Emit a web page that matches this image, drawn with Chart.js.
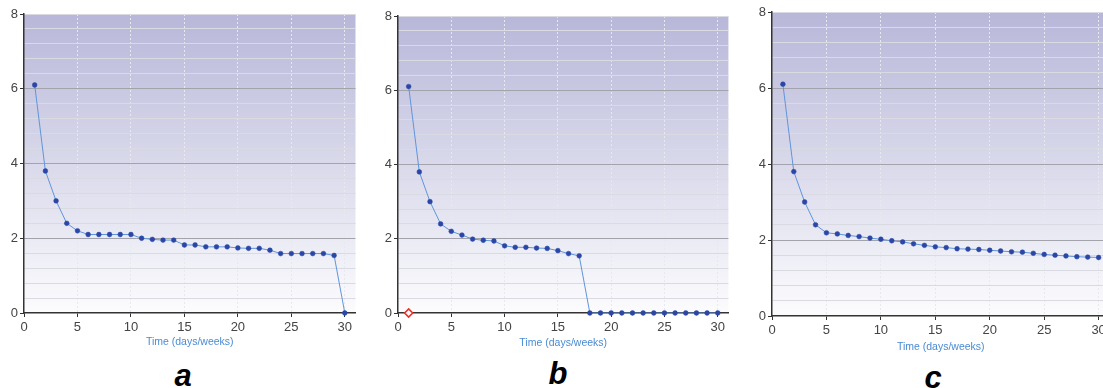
<!DOCTYPE html>
<html>
<head>
<meta charset="utf-8">
<script src="https://cdn.jsdelivr.net/npm/chart.js@4"></script>
<style>
  html, body { margin: 0; padding: 0; background: #fff; width: 1103px; height: 388px; overflow: hidden; }
  .panel { position: absolute; top: 0; }
  .letter { position: absolute; font: italic bold 31px "Liberation Sans", Arial, sans-serif; color: #000; transform: translate(-50%, -50%); }
</style>
</head>
<body>
<canvas id="chartA" class="panel" style="left:0px"></canvas>
<canvas id="chartB" class="panel" style="left:374px"></canvas>
<canvas id="chartC" class="panel" style="left:748px"></canvas>
<div class="letter" style="left:183px; top:376px">a</div>
<div class="letter" style="left:558px; top:374px">b</div>
<div class="letter" style="left:933px; top:378px">c</div>
<script>
// x positions (days/weeks)
const timeSteps = [1, 2, 3, 4, 5, 6, 7, 8, 9, 10, 11, 12, 13, 14, 15,
  16, 17, 18, 19, 20, 21, 22, 23, 24, 25, 26, 27, 28, 29, 30];

const seriesA = [6.1, 3.8, 3.0, 2.4, 2.2, 2.1, 2.1, 2.1, 2.1, 2.1, 2.0, 1.97, 1.95, 1.95, 1.82,
  1.82, 1.77, 1.77, 1.77, 1.74, 1.73, 1.73, 1.68, 1.59, 1.59, 1.59, 1.59, 1.59, 1.54, 0];
const seriesB = [6.1, 3.8, 3.0, 2.4, 2.2, 2.1, 1.99, 1.96, 1.94, 1.81, 1.77, 1.77, 1.75, 1.74, 1.68,
  1.6, 1.54, 0, 0, 0, 0, 0, 0, 0, 0, 0, 0, 0, 0, 0];
const seriesC = [6.1, 3.8, 3.0, 2.4, 2.19, 2.16, 2.12, 2.09, 2.05, 2.02, 1.98, 1.95, 1.9, 1.86, 1.82,
  1.8, 1.77, 1.76, 1.75, 1.73, 1.71, 1.69, 1.68, 1.65, 1.62, 1.6, 1.58, 1.56, 1.55, 1.54];
// the red hollow marker in panel b
const markerB = [{ x: 1, y: 0 }];

const xTicks = [0, 5, 10, 15, 20, 25, 30];
const yTicks = [0, 2, 4, 6, 8];
const yMinorStep = 0.4;

const pts = (ys) => ys.map((y, i) => ({ x: timeSteps[i], y }));

// gradient background behind the plot
const bgPlugin = {
  id: 'plotBg',
  beforeDraw(chart) {
    const { ctx, chartArea: a } = chart;
    const g = ctx.createLinearGradient(0, a.top, 0, a.bottom);
    g.addColorStop(0, '#b8b7d9');
    g.addColorStop(0.5, '#d9d9eb');
    g.addColorStop(1, '#fcfcfe');
    ctx.save();
    ctx.fillStyle = g;
    ctx.fillRect(a.left, a.top, a.right - a.left, a.bottom - a.top);
    ctx.restore();
  }
};

const isMajorY = v => yTicks.some(t => Math.abs(t - v) < 1e-6);

function makeChart(id, cfg) {
  const el = document.getElementById(id);
  el.width = cfg.w;
  el.height = cfg.h;
  const datasets = [{
    data: pts(cfg.series),
    borderColor: '#5f95dc',
    borderWidth: 1,
    backgroundColor: '#2b47a6',
    pointBackgroundColor: '#2b47a6',
    pointBorderColor: '#2b47a6',
    pointRadius: 2.4,
    pointBorderWidth: 0.5,
    showLine: true,
    tension: 0,
    clip: 8
  }];
  if (cfg.marker) {
    datasets.push({
      data: cfg.marker,
      showLine: false,
      pointStyle: 'rectRot',
      pointRadius: 4,
      pointBorderWidth: 1.6,
      pointBorderColor: '#e8322a',
      pointBackgroundColor: '#ffffff',
      clip: 8
    });
  }
  return new Chart(el, {
    type: 'scatter',
    data: { datasets },
    plugins: [bgPlugin],
    options: {
      responsive: false,
      animation: false,
      events: [],
      layout: { padding: { left: 0, top: cfg.top, right: cfg.right, bottom: 0 } },
      plugins: { legend: { display: false }, tooltip: { enabled: false } },
      scales: {
        x: {
          type: 'linear',
          min: 0,
          max: 31,
          afterBuildTicks: s => { s.ticks = xTicks.map(v => ({ value: v })); },
          afterFit: s => { s.height = cfg.h - cfg.bottom; },
          ticks: {
            color: '#444',
            font: { family: 'Liberation Sans', size: 13 },
            padding: 3,
            maxRotation: 0,
            autoSkip: false
          },
          grid: {
            color: c => c.tick && c.tick.value === 0 ? 'rgba(0,0,0,0)' : '#e8e8ef',
            tickColor: '#333',
            tickLength: 4,
            lineWidth: 1
          },
          border: { color: '#333', width: 1.5, dash: [2, 2] },
          title: {
            display: true,
            text: 'Time (days/weeks)',
            color: '#4a8bd3',
            font: { family: 'Liberation Sans', size: 10.5 },
            padding: { top: 0, bottom: 0 }
          }
        },
        y: {
          min: 0,
          max: 8,
          afterBuildTicks: s => {
            const t = [];
            for (let k = 0; k <= 20; k++) t.push({ value: +(k * yMinorStep).toFixed(1) });
            s.ticks = t;
          },
          afterFit: s => { s.width = 24; },
          ticks: {
            color: '#444',
            font: { family: 'Liberation Sans', size: 13 },
            padding: 2,
            autoSkip: false,
            callback: v => isMajorY(v) ? String(v) : ''
          },
          grid: {
            color: c => {
              const v = c.tick ? c.tick.value : 0;
              if (v === 0) return 'rgba(0,0,0,0)';
              return isMajorY(v) && v !== 8 ? '#a3a3ab' : '#dadae2';
            },
            tickColor: c => c.tick && isMajorY(c.tick.value) ? '#333' : 'rgba(0,0,0,0)',
            tickLength: 4,
            lineWidth: 1
          },
          border: { color: '#333', width: 1.5 }
        }
      }
    }
  });
}

makeChart('chartA', { series: seriesA, w: 360, h: 348, top: 14, right: 4, bottom: 313 });
makeChart('chartB', { series: seriesB, marker: markerB, w: 360, h: 349, top: 16, right: 5, bottom: 313 });
makeChart('chartC', { series: seriesC, w: 366, h: 353, top: 12, right: 4, bottom: 316 });
</script>
</body>
</html>
